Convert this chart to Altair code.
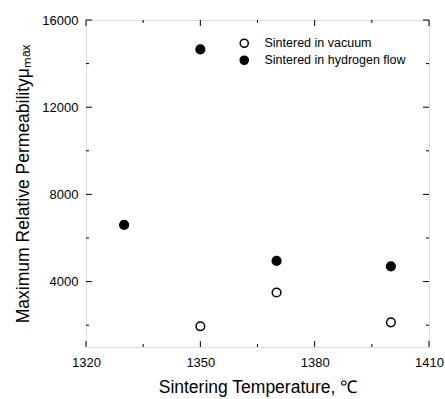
import altair as alt
import pandas as pd

vac_x = [1350, 1370, 1400]
vac_y = [1950, 3500, 2130]
hyd_x = [1330, 1350, 1370, 1400]
hyd_y = [6600, 14650, 4950, 4700]
series = ["Sintered in vacuum", "Sintered in hydrogen flow"]
x_major = [1320, 1350, 1380, 1410]
x_minor = [1335, 1365, 1395]
y_major = [4000, 8000, 12000, 16000]
y_minor = [2000, 6000, 10000, 14000]

W, H = 343, 327
FONT = "Liberation Sans"

df = pd.DataFrame(
    {"T": vac_x + hyd_x, "mu": vac_y + hyd_y,
     "series": [series[0]] * len(vac_x) + [series[1]] * len(hyd_x)}
)

xs = alt.Scale(domain=[1320, 1410], nice=False, zero=False)
ys = alt.Scale(domain=[1000, 16000], nice=False, zero=False)

pts = alt.Chart(df).mark_point(shape="circle", filled=True, stroke="black",
                               strokeWidth=1.5, opacity=1, size=75).encode(
    x=alt.X("T:Q", scale=xs,
            axis=alt.Axis(values=x_major, format="d", title="Sintering Temperature, ℃",
                          ticks=False, domain=False, grid=False, labelFontSize=13,
                          labelFont=FONT, titleFont=FONT, titleFontSize=17.5,
                          titleFontWeight="normal", labelPadding=9, titlePadding=9,
                          labelColor="black", titleColor="black", labelFlush=False)),
    y=alt.Y("mu:Q", scale=ys,
            axis=alt.Axis(values=y_major, format="d", title="Maximum Relative Permeabilityμₘₐₓ",
                          ticks=False, domain=False, grid=False, labelFontSize=13,
                          labelFont=FONT, titleFont=FONT, titleFontSize=17.5,
                          titleFontWeight="normal", labelPadding=8, titlePadding=9,
                          labelColor="black", titleColor="black")),
    fill=alt.Fill("series:N", scale=alt.Scale(domain=series, range=["white", "black"]),
                  legend=alt.Legend(title=None, orient="none", legendX=152, legendY=17,
                                    symbolStrokeColor="black", symbolStrokeWidth=1.5,
                                    symbolSize=65, labelFont=FONT, labelFontSize=12.5,
                                    labelColor="black", rowPadding=2, labelOffset=14,
                                    padding=0, symbolType="circle")),
)

def ticks(vals, length, axis):
    d = pd.DataFrame({"v": vals})
    layers = []
    if axis == "x":
        layers.append(alt.Chart(d).mark_rule(color="black", strokeWidth=1).encode(
            x=alt.X("v:Q", scale=xs), y=alt.value(H), y2=alt.value(H - length)))
        layers.append(alt.Chart(d).mark_rule(color="black", strokeWidth=1).encode(
            x=alt.X("v:Q", scale=xs), y=alt.value(0), y2=alt.value(length)))
    else:
        layers.append(alt.Chart(d).mark_rule(color="black", strokeWidth=1).encode(
            y=alt.Y("v:Q", scale=ys), x=alt.value(0), x2=alt.value(length)))
        layers.append(alt.Chart(d).mark_rule(color="black", strokeWidth=1).encode(
            y=alt.Y("v:Q", scale=ys), x=alt.value(W), x2=alt.value(W - length)))
    return layers

tick_layers = (ticks(x_major, 6, "x") + ticks(x_minor, 3, "x")
               + ticks(y_major, 6, "y") + ticks(y_minor, 3, "y"))

chart = alt.layer(*tick_layers, pts).properties(
    width=W, height=H,
    autosize=alt.AutoSizeParams(type="none"),
    padding={"left": 86, "top": 20, "right": 16, "bottom": 52},
).configure_view(stroke="black", strokeWidth=1.5).configure(background="white")

chart.save("out.html", embed_options={"renderer": "svg", "actions": False})
